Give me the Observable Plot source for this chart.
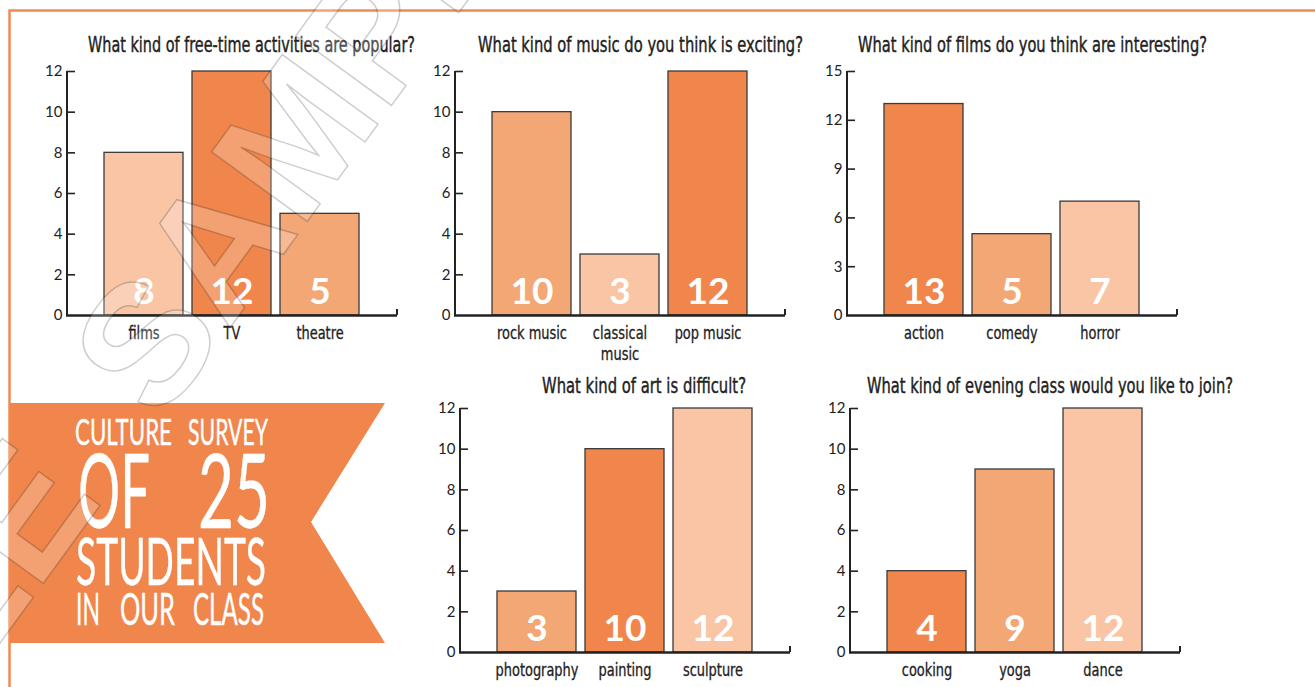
<!DOCTYPE html>
<html><head><meta charset="utf-8">
<script src="https://cdn.jsdelivr.net/npm/d3@7"></script>
<script src="https://cdn.jsdelivr.net/npm/@observablehq/plot@0.6"></script>
<style>
html,body{margin:0;padding:0;background:#fff;width:1315px;height:687px;overflow:hidden;}
.chart{position:absolute;}
#overlay{position:absolute;left:0;top:0;pointer-events:none;}
</style></head><body>
<div id="root"></div>
<script>
// ---------- data ----------
const freeTimeCategories = ["films", "TV", "theatre"];
const freeTimeValues = [8, 12, 5];
const musicCategories = ["rock music", "classical music", "pop music"];
const musicTickLabels = ["rock music", "classical\nmusic", "pop music"];
const musicValues = [10, 3, 12];
const filmCategories = ["action", "comedy", "horror"];
const filmValues = [13, 5, 7];
const artCategories = ["photography", "painting", "sculpture"];
const artValues = [3, 10, 12];
const eveningCategories = ["cooking", "yoga", "dance"];
const eveningValues = [4, 9, 12];
const yTicks12 = [0, 2, 4, 6, 8, 10, 12];
const yTicks15 = [0, 3, 6, 9, 12, 15];
const chartTitles = [
  "What kind of free-time activities are popular?",
  "What kind of music do you think is exciting?",
  "What kind of films do you think are interesting?",
  "What kind of art is difficult?",
  "What kind of evening class would you like to join?"
];
const bannerLines = ["CULTURE SURVEY", "OF 25", "STUDENTS", "IN OUR CLASS"];
const watermarkWord = "SAMPLE";

// ---------- styles ----------
const LIGHT = "#f9c5a4", MED = "#f3a775", DARK = "#f0864b", ORANGE = "#f0864b";
const NARROW = '"Liberation Sans Narrow", "DejaVu Sans Condensed", "Liberation Sans", sans-serif';
const SANS = 'Lato, "Open Sans", sans-serif';
const ML = 40, MR = 6, MT = 8, MB = 50, IW = 330, IH = 244;

const charts = [
  {cats: freeTimeCategories, vals: freeTimeValues, ticks: yTicks12, max: 12, fills: [LIGHT, DARK, MED], left: 27, top: 63},
  {cats: musicCategories, vals: musicValues, labels: musicTickLabels, ticks: yTicks12, max: 12, fills: [MED, LIGHT, DARK], left: 415, top: 63},
  {cats: filmCategories, vals: filmValues, ticks: yTicks15, max: 15, fills: [DARK, MED, LIGHT], left: 807, top: 63},
  {cats: artCategories, vals: artValues, ticks: yTicks12, max: 12, fills: [MED, DARK, LIGHT], left: 420, top: 400},
  {cats: eveningCategories, vals: eveningValues, ticks: yTicks12, max: 12, fills: [DARK, MED, LIGHT], left: 810, top: 400}
];

const root = document.getElementById("root");
for (const c of charts) {
  const data = c.cats.map((cat, i) => ({cat, val: c.vals[i], fill: c.fills[i]}));
  const labelOf = c.labels ? (d => c.labels[c.cats.indexOf(d)]) : (d => d);
  const plot = Plot.plot({
    width: ML + IW + MR, height: MT + IH + MB,
    marginLeft: ML, marginRight: MR, marginTop: MT, marginBottom: MB,
    style: {fontFamily: NARROW, background: "transparent", overflow: "visible", color: "#222"},
    x: {domain: c.cats, paddingInner: 0.102, paddingOuter: 0.426, axis: null},
    y: {domain: [0, c.max], axis: null},
    marks: [
      Plot.barY(data, {x: "cat", y: "val", fill: "fill", stroke: "#3a3a3a", strokeWidth: 1.3}),
      Plot.text(data, {x: "cat", text: d => String(d.val), frameAnchor: "bottom", lineAnchor: "bottom", dy: -12,
        fill: "white", fontSize: 37, fontWeight: "bold", fontFamily: SANS}),
      Plot.ruleY([0], {stroke: "#222", strokeWidth: 2.6, insetLeft: -1}),
      Plot.rect([0], {y1: 0, y2: c.max, insetLeft: -1, insetRight: IW - 1, fill: "#222"}),
      Plot.rect([0], {y1: 0, y2: c.max * 6 / IH, insetLeft: IW - 1, insetRight: -1, fill: "#222"}),
      Plot.ruleY(c.ticks.filter(t => t > 0), {stroke: "#222", strokeWidth: 1.6, insetRight: IW - 8}),
      Plot.axisY(c.ticks, {tickSize: 0, tickPadding: 5, fontSize: 15, fontFamily: SANS, fill: "#222", label: null}),
      Plot.axisX({tickSize: 0, tickPadding: 9, fontSize: 18, fill: "#222", label: null, lineHeight: 1.15, tickFormat: labelOf})
    ]
  });
  const div = document.createElement("div");
  div.className = "chart";
  div.style.left = c.left + "px";
  div.style.top = c.top + "px";
  div.appendChild(plot);
  root.appendChild(div);
  // narrow the category labels (condensed look)
  d3.select(plot).selectAll('[aria-label="x-axis tick label"] text').each(function () {
    const t = this.getAttribute("transform") || "";
    this.setAttribute("transform", t + " scale(0.8,1)");
  }).attr("stroke", "#222").attr("stroke-width", 0.3);
}

// ---------- overlay: frame, titles, banner, watermark ----------
const svg = d3.select("body").append("svg").attr("id", "overlay").attr("width", 1315).attr("height", 687);
svg.append("path").attr("d", "M9.5,687V10.5H1315").attr("fill", "none").attr("stroke", "#f28b50").attr("stroke-width", 2.5);

const titlePos = [[88, 415, 52], [478, 803, 52], [858, 1207, 52], [542, 746, 393], [867, 1233, 393]];
chartTitles.forEach((t, i) => {
  const [x0, x1, y] = titlePos[i];
  svg.append("text").attr("x", x0).attr("y", y).attr("textLength", x1 - x0).attr("lengthAdjust", "spacingAndGlyphs")
    .attr("font-family", NARROW).attr("font-size", 21).attr("fill", "#222")
    .attr("stroke", "#222").attr("stroke-width", 0.4).text(t);
});

svg.append("polygon").attr("points", "10,403 385,403 311,522 385,643 10,643").attr("fill", ORANGE);
// each banner line: baseline, font size, and the horizontal extent of each word
const bannerPos = [
  {y: 445, fs: 36, words: [[75, 172], [188, 268]]},
  {y: 528, fs: 102, words: [[78, 150], [198, 270]]},
  {y: 585, fs: 66, words: [[76, 266]]},
  {y: 625, fs: 45, words: [[76, 100], [120, 175], [193, 264]]}
];
bannerLines.forEach((line, i) => {
  const p = bannerPos[i];
  line.split(" ").forEach((w, j) => {
    const [x0, x1] = p.words[j];
    svg.append("text").attr("x", x0).attr("y", p.y).attr("textLength", x1 - x0).attr("lengthAdjust", "spacingAndGlyphs")
      .attr("font-family", "Lato, sans-serif").attr("font-weight", 400).attr("font-size", p.fs)
      .attr("fill", "white").attr("stroke", "white").attr("stroke-width", 0.4).text(w);
  });
});

// watermark
const wm = svg.append("g").attr("font-family", '"Liberation Sans", sans-serif').attr("font-weight", "bold")
  .attr("font-size", 172).attr("fill", "rgba(255,255,255,0.22)").attr("stroke", "rgba(0,0,0,0.2)").attr("stroke-width", 1.5);
wm.append("text").attr("transform", "translate(160,424) rotate(-54)").attr("text-anchor", "start").text(watermarkWord);
wm.append("text").attr("transform", "translate(104,500) rotate(-54)").attr("text-anchor", "end").text(watermarkWord);
</script>
</body></html>
